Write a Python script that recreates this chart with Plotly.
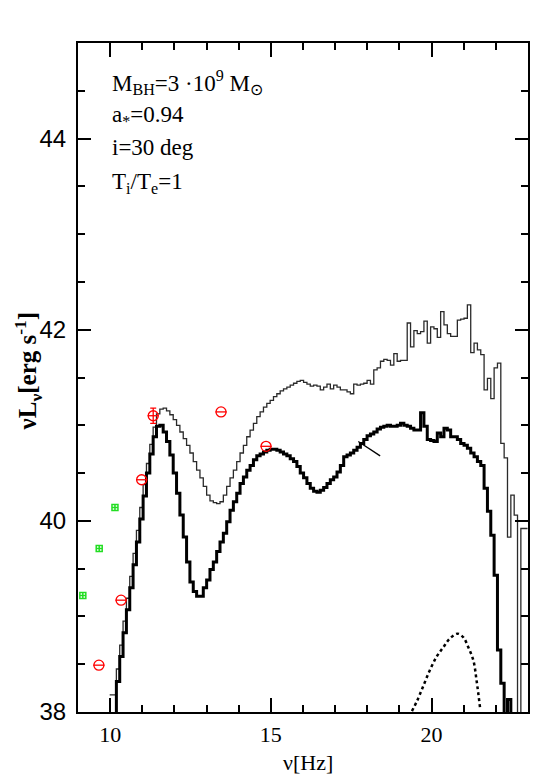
import numpy as np
import plotly.graph_objects as go

# log frequency bins of the model spectra (uniform in log nu)
bin_start = 9.986
bin_width = 0.104

# thick histogram: model spectrum (values below 38 fall off the axis)
thick_lum = [
    37.0, 37.0,
    38.32, 38.58, 38.83, 39.07, 39.30, 39.54, 39.78, 40.02, 40.26, 40.50, 40.70, 40.88, 40.99, 41.00,
    40.93, 40.83, 40.69, 40.50, 40.29, 40.06, 39.83, 39.57, 39.36, 39.26, 39.21, 39.21, 39.30, 39.38, 39.49, 39.57,
    39.68, 39.78, 39.87, 39.99, 40.11, 40.20, 40.29, 40.39, 40.46, 40.53, 40.58, 40.64, 40.68, 40.70, 40.72, 40.74,
    40.75, 40.75, 40.74, 40.72, 40.70, 40.68, 40.65, 40.62, 40.57, 40.50, 40.45, 40.39, 40.34, 40.31, 40.30, 40.32,
    40.35, 40.39, 40.43, 40.46, 40.51, 40.58, 40.67, 40.69, 40.71, 40.74, 40.77, 40.81, 40.85, 40.89, 40.91, 40.93,
    40.96, 40.98, 40.99, 41.00, 40.99, 40.99, 41.00, 41.02, 41.00, 40.99, 40.97, 40.95, 40.95, 41.13, 40.99, 40.85,
    40.84, 40.83, 40.92, 40.88, 40.97, 40.95, 40.88, 40.88, 40.85, 40.81, 40.79, 40.76, 40.71, 40.67, 40.62, 40.58,
    40.34, 40.10, 39.85, 39.43, 38.65, 38.30, 37.0, 38.13, 37.0, 37.0, 37.0, 37.0, 37.0,
]

# thin histogram: second model
thin_lum = [
    38.18, 38.18,
    38.45, 38.70, 38.95, 39.19, 39.42, 39.66, 39.90, 40.14, 40.38, 40.60, 40.80, 40.98, 41.12, 41.17,
    41.18, 41.15, 41.11, 41.06, 41.00, 40.93, 40.86, 40.79, 40.71, 40.62, 40.53, 40.45, 40.36, 40.27, 40.21, 40.19,
    40.18, 40.20, 40.27, 40.36, 40.45, 40.53, 40.62, 40.71, 40.79, 40.88, 40.95, 41.02, 41.09, 41.14, 41.19, 41.23,
    41.26, 41.30, 41.33, 41.36, 41.38, 41.40, 41.42, 41.44, 41.46, 41.47, 41.45, 41.43, 41.41, 41.42, 41.41, 41.37,
    41.40, 41.43, 41.38, 41.42, 41.40, 41.37, 41.37, 41.35, 41.33, 41.43, 41.42, 41.43, 41.44, 41.47, 41.43, 41.58,
    41.60, 41.67, 41.69, 41.68, 41.63, 41.75, 41.67, 41.68, 41.68, 42.07, 41.82, 41.99, 41.96, 41.98, 42.09, 41.86,
    42.03, 42.01, 41.92, 42.19, 42.05, 41.96, 41.93, 41.93, 42.10, 42.11, 42.12, 42.26, 41.76, 41.86, 41.79, 41.74,
    41.37, 41.49, 41.28, 41.60, 41.65, 40.81, 40.66, 39.83, 40.27, 40.06, 37.0, 39.92, 39.92,
]

# dotted component
dot_nu = [19.39, 19.54, 19.74, 19.95, 20.16, 20.37, 20.57, 20.81, 20.99, 21.14, 21.30, 21.40, 21.51]
dot_lum = [38.01, 38.11, 38.27, 38.44, 38.58, 38.68, 38.77, 38.82, 38.78, 38.68, 38.54, 38.33, 38.04]

# observed points
red_nu = [9.65, 10.34, 10.98, 11.34, 13.45, 14.85]
red_lum = [38.49, 39.17, 40.43, 41.10, 41.14, 40.78]
err_nu = [11.34]
err_lum = [41.10]
err_size = [0.08]
green_nu = [9.15, 9.66, 10.15]
green_lum = [39.22, 39.71, 40.14]

# x-ray slope segment
xray_nu = [17.72, 18.40]
xray_lum = [40.83, 40.68]

edges = bin_start + bin_width * np.arange(len(thick_lum) + 1)


def steps(vals):
    return list(edges), list(vals) + [vals[-1]]


fig = go.Figure()

x, y = steps(thin_lum)
fig.add_trace(go.Scatter(x=x, y=y, mode="lines", line=dict(color="#2a2a2a", width=1.3, shape="hv")))
x, y = steps(thick_lum)
fig.add_trace(go.Scatter(x=x, y=y, mode="lines", line=dict(color="black", width=3, shape="hv")))

fig.add_trace(go.Scatter(x=dot_nu, y=dot_lum, mode="lines",
                         line=dict(color="black", width=2.5, dash="dot", shape="spline")))
fig.add_trace(go.Scatter(x=xray_nu, y=xray_lum, mode="lines", line=dict(color="black", width=1.3)))

fig.add_trace(go.Scatter(x=err_nu, y=err_lum, mode="markers",
                         marker=dict(size=1, color="red"),
                         error_y=dict(type="data", array=err_size, color="red", thickness=1.3, width=3)))
fig.add_trace(go.Scatter(x=red_nu, y=red_lum, mode="markers",
                         marker=dict(symbol="circle-open", size=10, color="red", line=dict(width=1.3))))
fig.add_trace(go.Scatter(x=red_nu, y=red_lum, mode="markers",
                         marker=dict(symbol="line-ew-open", size=8, color="red", line=dict(width=1.3))))
fig.add_trace(go.Scatter(x=green_nu, y=green_lum, mode="markers",
                         marker=dict(symbol="square-cross-open", size=6, color="#22dd22", line=dict(width=1.5))))

axis_common = dict(showgrid=False, zeroline=False, showline=True, linewidth=2, linecolor="black",
                   mirror="ticks", ticks="inside", tickwidth=1.5, tickcolor="black")

fig.update_xaxes(range=[9, 23], tick0=0, dtick=5, ticklen=14,
                 minor=dict(dtick=1, ticks="inside", ticklen=7, tickwidth=1.5, tickcolor="black", showgrid=False),
                 tickfont=dict(family="Liberation Serif", size=22, color="black"),
                 ticklabelstandoff=2, **axis_common)
fig.update_yaxes(range=[38, 45], tick0=38, dtick=2, ticklen=13,
                 minor=dict(dtick=0.5, ticks="inside", ticklen=7, tickwidth=1.5, tickcolor="black", showgrid=False),
                 tickfont=dict(family="Liberation Sans Narrow, Liberation Sans", size=24, color="black"),
                 ticklabelstandoff=5, **axis_common)

labels = [
    "M<sub>BH</sub>=3 ·10<sup>9</sup> M<sub>⊙</sub>",
    "a<sub>*</sub>=0.94",
    "i=30 deg",
    "T<sub>i</sub>/T<sub>e</sub>=1",
]
label_y = [44.59, 44.24, 43.91, 43.54]
for txt, ly in zip(labels, label_y):
    fig.add_annotation(x=10.0, y=ly, xref="x", yref="y", text=txt, showarrow=False,
                       xanchor="left", yanchor="middle",
                       font=dict(family="Liberation Serif", size=23, color="black"))

fig.add_annotation(x=-0.112, y=0.51, xref="paper", yref="paper", textangle=-90,
                   xanchor="center", yanchor="middle",
                   text="<b>νL<sub>ν</sub>[erg s<sup>-1</sup>]</b>", showarrow=False,
                   font=dict(family="Liberation Serif", size=25, color="black"))
fig.add_annotation(x=0.51, y=-0.054, xref="paper", yref="paper", yanchor="top",
                   text="ν[Hz]", showarrow=False,
                   font=dict(family="Liberation Serif", size=22, color="black"))

# page body adds an 8px offset, margins compensate for it
fig.update_layout(width=558, height=777, margin=dict(l=70, r=38, t=35, b=73),
                  plot_bgcolor="white", paper_bgcolor="white", showlegend=False)

fig.write_html("out.html")
